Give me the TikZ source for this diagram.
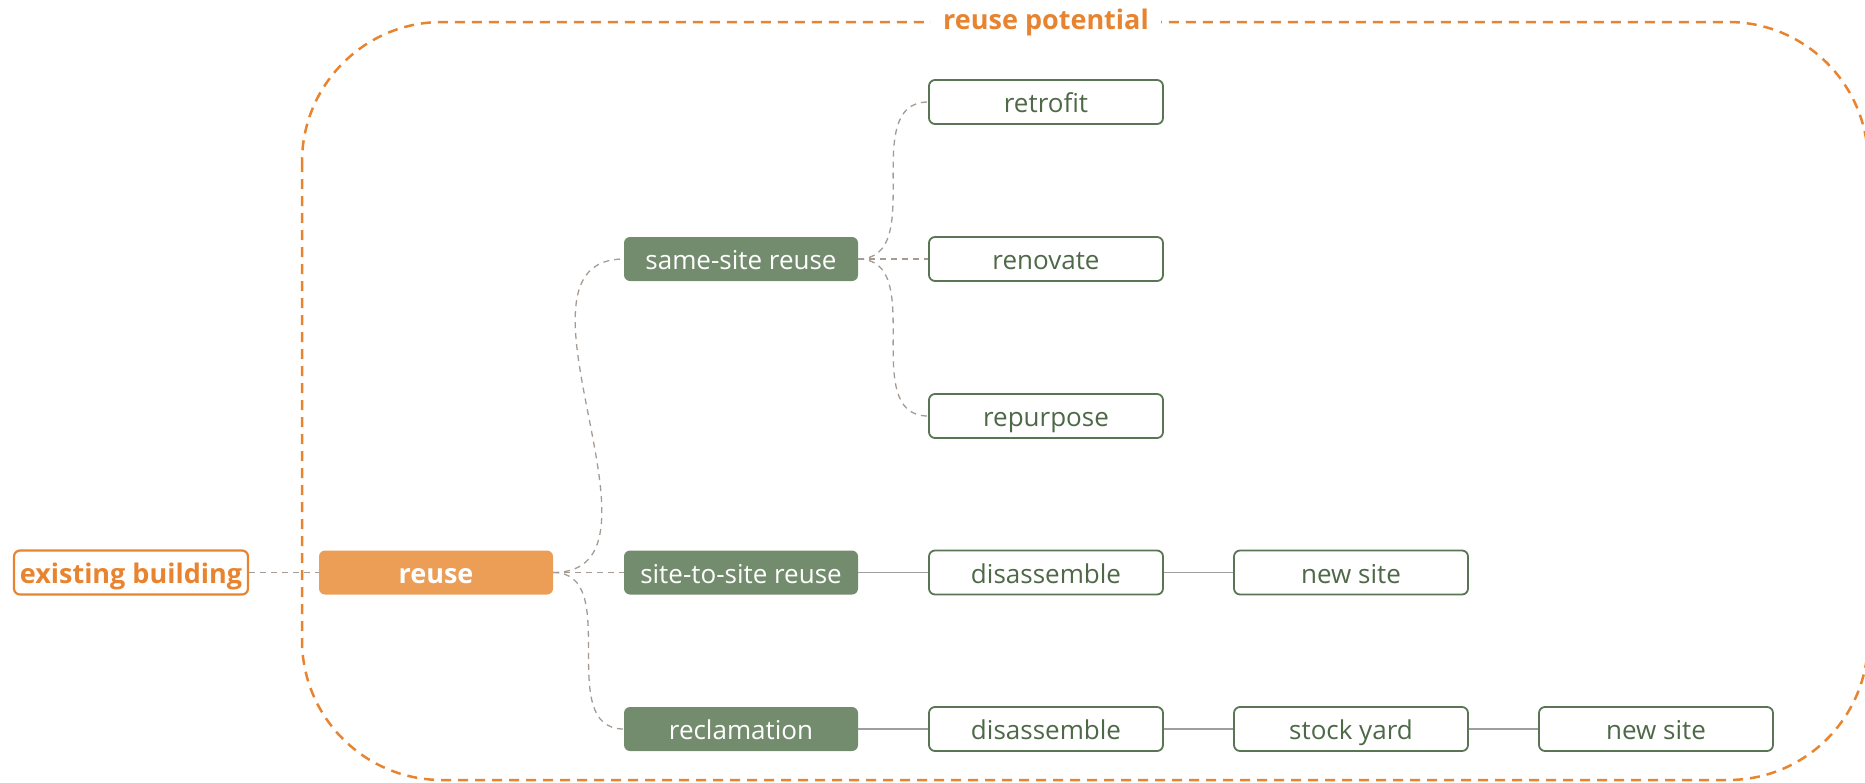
\documentclass[tikz,border=0pt]{standalone}
\usepackage{fontspec}
\setmainfont{Open Sans}
\definecolor{potorange}{HTML}{E8842F}
\definecolor{reusefill}{HTML}{EC9D56}
\definecolor{sagefill}{HTML}{748C6E}
\definecolor{sageline}{HTML}{5A7554}
\definecolor{sagetext}{HTML}{4E6848}
\definecolor{linkgray}{HTML}{A39B94}
\definecolor{solidgray}{HTML}{9E9E9E}
\begin{document}
\begin{tikzpicture}[x=1pt,y=-1pt,
  box/.style={rounded corners=6pt, minimum width=234pt, minimum height=44pt,
    inner sep=0pt, text height=21pt, text depth=0pt,
    font=\fontsize{26}{30}\selectfont},
  orangebox/.style={box, draw=potorange, line width=2.2pt, fill=white,
    text=potorange, font=\fontsize{27}{30}\selectfont\bfseries},
  reusebox/.style={box, fill=reusefill, text=white,
    font=\fontsize{27}{30}\selectfont\bfseries},
  sagebox/.style={box, fill=sagefill, text=white},
  leafbox/.style={box, draw=sageline, line width=1.8pt, fill=white, text=sagetext},
  dashlink/.style={draw=linkgray, line width=1.3pt, dash pattern=on 6pt off 5pt},
  branch/.style={dashlink, out=0, in=180, looseness=1.05},
  solidlink/.style={draw=solidgray, line width=1.4pt},
  frameline/.style={draw=potorange, line width=2.5pt, dash pattern=on 10pt off 7pt,
    rounded corners=140pt},
  framelabel/.style={fill=white, text=potorange, inner xsep=12pt, inner ysep=2pt,
    font=\fontsize{27}{30}\selectfont\bfseries}]
\useasboundingbox (0,0) rectangle (1865,782);

% dashed boundary of the reuse potential
\draw[frameline] (302,22) rectangle (1868,780);
\node[framelabel] (potential) at (1046,22) {reuse potential};

% nodes
\node[orangebox] (existing) at (131,572.5) {existing building};
\node[reusebox] (reuse) at (436,572.5) {reuse};

\node[sagebox] (same) at (741,259) {same-site reuse};
\node[sagebox] (sts) at (741,572.5) {site-to-site reuse};
\node[sagebox] (recl) at (741,729) {reclamation};

\node[leafbox] (retro) at (1046,102) {retrofit};
\node[leafbox] (renov) at (1046,259) {renovate};
\node[leafbox] (repur) at (1046,416) {repurpose};

\node[leafbox] (disA) at (1046,572.5) {disassemble};
\node[leafbox] (newA) at (1351,572.5) {new site};

\node[leafbox] (disB) at (1046,729) {disassemble};
\node[leafbox] (yard) at (1351,729) {stock yard};
\node[leafbox] (newB) at (1656,729) {new site};

% dashed branches
\draw[dashlink] (existing) -- (reuse);
\draw[branch] (reuse.east) to (same.west);
\draw[dashlink] (reuse) -- (sts);
\draw[branch] (reuse.east) to (recl.west);
\draw[branch] (same.east) to (retro.west);
\draw[dashlink] (same) -- (renov);
\draw[branch] (same.east) to (repur.west);

% solid chains
\draw[solidlink] (sts) -- (disA);
\draw[solidlink] (disA) -- (newA);
\draw[solidlink] (recl) -- (disB);
\draw[solidlink] (disB) -- (yard);
\draw[solidlink] (yard) -- (newB);
\end{tikzpicture}
\end{document}
